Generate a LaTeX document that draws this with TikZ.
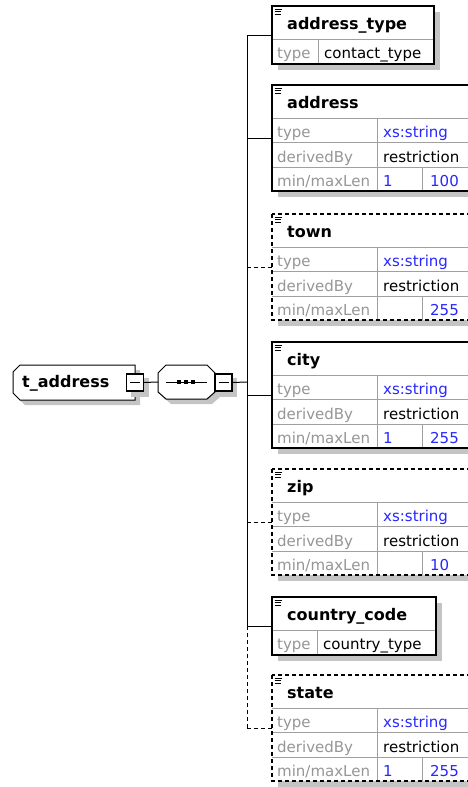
\documentclass[tikz,border=0pt]{standalone}
\usepackage{fontspec}
\setmainfont{DejaVu Sans}
\definecolor{shadowgray}{RGB}{196,196,196}
\definecolor{rowgray}{RGB}{160,160,160}
\definecolor{labelgray}{RGB}{150,150,150}
\definecolor{valblue}{RGB}{40,40,255}
\tikzset{
  x=1pt, y=-1pt,
  shd/.style={fill=shadowgray, draw=none},
  border/.style={draw=black, line width=1.2pt},
  rowline/.style={draw=rowgray, line width=1pt},
  dsh/.style={dash pattern=on 4pt off 3pt},
  plainline/.style={},
  hdr/.style={font=\fontsize{16}{18}\selectfont\bfseries, inner sep=0pt, anchor=base west},
  lbl/.style={font=\fontsize{15}{17}\selectfont, text=labelgray, inner sep=0pt, anchor=base west},
  val/.style={font=\fontsize{15}{17}\selectfont, text=black, inner sep=0pt, anchor=base west},
  bval/.style={val, text=valblue},
  conn/.style={draw=black, line width=1pt},
  minusbox/.style={draw=black, fill=white, line width=1.6pt, minimum size=17pt, inner sep=0pt, outer sep=0pt},
  boxnode/.style={fill=white, inner sep=0pt, outer sep=0pt, anchor=north west},
}
% long element box: #1 name, #2 top, #3 title, #4 border style, #5 type, #6 min, #7 max
\newcommand\elong[7]{%
  \fill[shd] (278,{#2+6}) rectangle (506,{#2+112});
  \node[boxnode, minimum width=228pt, minimum height=106pt] (#1) at (272,#2) {};
  \draw[rowline] (272,{#2+33}) -- (500,{#2+33}) (272,{#2+57.5}) -- (500,{#2+57.5})
    (272,{#2+82}) -- (500,{#2+82}) (377,{#2+33}) -- (377,{#2+106})
    (422.5,{#2+82}) -- (422.5,{#2+106});
  \draw[border,#4] (#1.north west) rectangle (#1.south east);
  \draw[line width=0.9pt] (274.5,{#2+3}) -- (282,{#2+3}) (274.5,{#2+5.5}) -- (281,{#2+5.5})
    (274.5,{#2+8}) -- (281,{#2+8});
  \node[hdr] (#1-h) at (287,{#2+23}) {#3};
  \node[lbl] (#1-l1) at (277,{#2+52.5}) {type};
  \node[bval] (#1-v1) at (383,{#2+52.5}) {#5};
  \node[lbl] (#1-l2) at (277,{#2+77}) {derivedBy};
  \node[val] (#1-v2) at (383,{#2+77}) {restriction};
  \node[lbl] (#1-l3) at (277,{#2+101}) {min/maxLen};
  \node[bval] (#1-v3) at (383,{#2+101}) {#6};
  \node[bval] (#1-v4) at (430,{#2+101}) {#7};
}
% short element box: #1 name, #2 top, #3 width, #4 divider x, #5 title, #6 type
\newcommand\eshort[6]{%
  \fill[shd] (278,{#2+6}) rectangle ({272+#3+6},{#2+64});
  \node[boxnode, minimum width=#3 pt, minimum height=58pt] (#1) at (272,#2) {};
  \draw[rowline] (272,{#2+33}) -- ({272+#3},{#2+33}) (#4,{#2+33}) -- (#4,{#2+58});
  \draw[border] (#1.north west) rectangle (#1.south east);
  \draw[line width=0.9pt] (274.5,{#2+3}) -- (282,{#2+3}) (274.5,{#2+5.5}) -- (281,{#2+5.5})
    (274.5,{#2+8}) -- (281,{#2+8});
  \node[hdr] (#1-h) at (287,{#2+23}) {#5};
  \node[lbl] (#1-l1) at (277,{#2+52}) {type};
  \node[val] (#1-v1) at ({#4+6},{#2+52}) {#6};
}
\begin{document}
\begin{tikzpicture}
\useasboundingbox (0,0) rectangle (467,787);
\fill[white] (0,0) rectangle (467,787);

% root element t_address
\fill[shd] (25,370) -- (140,370) -- (140,405) -- (25,405) -- (18,398) -- (18,377) -- cycle;
\draw[fill=white, line width=1pt] (20,365) -- (135,365) -- (135,400) -- (20,400) -- (13,393) -- (13,372) -- cycle;
\node[hdr] (ta) at (22,387) {t\_address};
\fill[shd] (131,378) rectangle (149,397);
\node[minusbox] (tam) at (135,382.5) {};
\draw[line width=1pt] ([xshift=-5pt]tam.center) -- ([xshift=5pt]tam.center);

% sequence compositor
\fill[shd] (171,370) -- (212,370) -- (220,378) -- (220,397) -- (212,404) -- (171,404) -- (163,397) -- (163,378) -- cycle;
\draw[fill=white, line width=1pt] (166,365) -- (207,365) -- (215,373) -- (215,392) -- (207,399) -- (166,399) -- (158,392) -- (158,373) -- cycle;
\node[minimum width=57pt, minimum height=34pt, inner sep=0pt, outer sep=0pt] (seq) at (186.5,382) {};
\draw[line width=1pt] (166,382) -- (207,382);
\foreach \dx in {179,186,193} \fill (\dx-1.8,380.2) rectangle (\dx+1.8,383.8);
\fill[shd] (219,378) rectangle (237,397);
\node[minusbox] (seqm) at (223.5,382.5) {};
\draw[line width=1pt] ([xshift=-5pt]seqm.center) -- ([xshift=5pt]seqm.center);

% child elements
\eshort{at}{6}{162}{318}{address\_type}{contact\_type}
\elong{ad}{85}{address}{plainline}{xs:string}{1}{100}
\elong{to}{214}{town}{dsh}{xs:string}{}{255}
\elong{ci}{342}{city}{plainline}{xs:string}{1}{255}
\elong{zi}{469}{zip}{dsh}{xs:string}{}{10}
\eshort{cc}{597}{164}{317}{country\_code}{country\_type}
\elong{st}{675}{state}{dsh}{xs:string}{1}{255}

% connectors
\draw[conn] (tam.east) -- (seq.west);
\coordinate (sp) at (247,382);
\draw[conn] (seqm.east) -- (sp);
\draw[conn] (sp |- at.west) -- (sp |- cc.west);
\draw[conn, dsh] (sp |- cc.west) -- (sp |- st.west);
\draw[conn] (sp |- at.west) -- (at.west);
\draw[conn] (sp |- ad.west) -- (ad.west);
\draw[conn, dsh] (sp |- to.west) -- (to.west);
\draw[conn] (sp |- ci.west) -- (ci.west);
\draw[conn, dsh] (sp |- zi.west) -- (zi.west);
\draw[conn] (sp |- cc.west) -- (cc.west);
\draw[conn, dsh] (sp |- st.west) -- (st.west);
\end{tikzpicture}
\end{document}
